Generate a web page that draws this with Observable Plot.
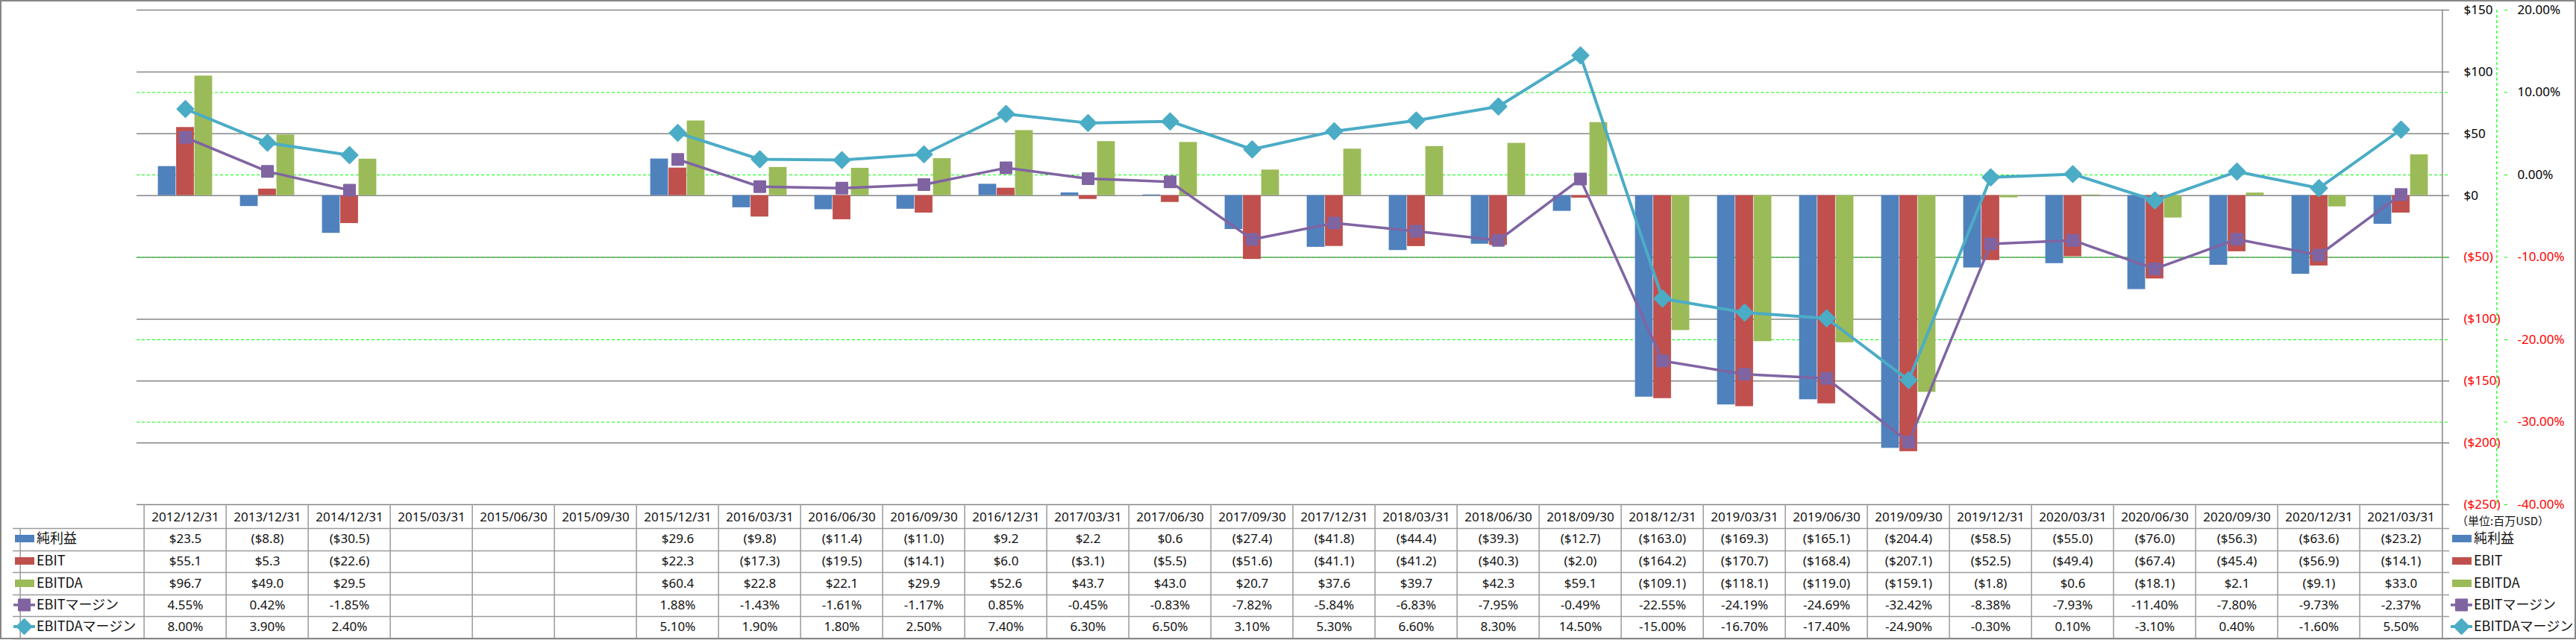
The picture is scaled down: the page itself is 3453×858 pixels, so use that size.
<!DOCTYPE html>
<html><head><meta charset="utf-8">
<script src="https://cdn.jsdelivr.net/npm/d3@7"></script>
<script src="https://cdn.jsdelivr.net/npm/@observablehq/plot@0.6"></script>
<style>
html,body{margin:0;padding:0;background:#fff;}
#chart svg{display:block;}
</style></head><body><div id="chart"></div>
<script>
// ---- data ----
const dates = ["2012/12/31","2013/12/31","2014/12/31","2015/03/31","2015/06/30","2015/09/30","2015/12/31","2016/03/31","2016/06/30","2016/09/30","2016/12/31","2017/03/31","2017/06/30","2017/09/30","2017/12/31","2018/03/31","2018/06/30","2018/09/30","2018/12/31","2019/03/31","2019/06/30","2019/09/30","2019/12/31","2020/03/31","2020/06/30","2020/09/30","2020/12/31","2021/03/31"];
const netIncome = [23.5,-8.8,-30.5,null,null,null,29.6,-9.8,-11.4,-11.0,9.2,2.2,0.6,-27.4,-41.8,-44.4,-39.3,-12.7,-163.0,-169.3,-165.1,-204.4,-58.5,-55.0,-76.0,-56.3,-63.6,-23.2];
const ebit = [55.1,5.3,-22.6,null,null,null,22.3,-17.3,-19.5,-14.1,6.0,-3.1,-5.5,-51.6,-41.1,-41.2,-40.3,-2.0,-164.2,-170.7,-168.4,-207.1,-52.5,-49.4,-67.4,-45.4,-56.9,-14.1];
const ebitda = [96.7,49.0,29.5,null,null,null,60.4,22.8,22.1,29.9,52.6,43.7,43.0,20.7,37.6,39.7,42.3,59.1,-109.1,-118.1,-119.0,-159.1,-1.8,0.6,-18.1,2.1,-9.1,33.0];
const ebitMargin = [4.55,0.42,-1.85,null,null,null,1.88,-1.43,-1.61,-1.17,0.85,-0.45,-0.83,-7.82,-5.84,-6.83,-7.95,-0.49,-22.55,-24.19,-24.69,-32.42,-8.38,-7.93,-11.40,-7.80,-9.73,-2.37];
const ebitdaMargin = [8.00,3.90,2.40,null,null,null,5.10,1.90,1.80,2.50,7.40,6.30,6.50,3.10,5.30,6.60,8.30,14.50,-15.00,-16.70,-17.40,-24.90,-0.30,0.10,-3.10,0.40,-1.60,5.50];
const seriesNames = ["純利益","EBIT","EBITDA","EBITマージン","EBITDAマージン"];
const dollarTicks = [150,100,50,0,-50,-100,-150,-200,-250];
const pctTicks = [20,10,0,-10,-20,-30,-40];
const pctGridTicks = [10,0,-10,-20,-30];
const unitLabel = "（単位:百万USD）";

// ---- derived table ----
const keys = ["net","ebit","ebitda","ebitM","ebitdaM"];
const colors = ["#4F81BD","#C0504D","#9BBB59","#8064A2","#4BACC6"];
const rows = dates.map((date,i)=>({date, net:netIncome[i], ebit:ebit[i], ebitda:ebitda[i], ebitM:ebitMargin[i], ebitdaM:ebitdaMargin[i]}));

// ---- geometry ----
const W = 3453, H = 858, mL = 183, mR = 170, mT = 13, mB = 182;
const bw = (W - mL - mR) / dates.length;
const barW = 24.5;
const barStart = (bw - 3*barW) / 2;
// secondary (percent) axis mapped onto the dollar axis: 20% <-> $150, -40% <-> -$250
const toY = m => m == null ? NaN : (m - 20) * 400/60 + 150;
const fromY = v => (v - 150) * 60/400 + 20;

const money = v => v == null ? "" : (v < 0 ? "($" + Math.abs(v).toFixed(1) + ")" : "$" + v.toFixed(1));
const pct = v => v == null ? "" : v.toFixed(2) + "%";
const axisMoney = v => v < 0 ? "($" + Math.abs(v) + ")" : "$" + v;
const axisPct = v => { let p = Math.round(fromY(v)); if (p === 0) p = 0; return p.toFixed(2) + "%"; };

const diamond = {draw(ctx, size){ const r = Math.sqrt(size/Math.PI); ctx.moveTo(0,-r); ctx.lineTo(r,0); ctx.lineTo(0,r); ctx.lineTo(-r,0); ctx.closePath(); }};
const square = {draw(ctx, size){ const r = Math.sqrt(size/Math.PI); ctx.moveTo(-r,-r); ctx.lineTo(r,-r); ctx.lineTo(r,r); ctx.lineTo(-r,r); ctx.closePath(); }};

const gridGray = "#868686";
const tableGray = "#9a9a9a";
const rowCenters = [46, 76, 106, 135, 164];
const rowLines = [32, 62, 91, 121, 150, 180];
const fmts = [money, money, money, pct, pct];

const marks = [
  Plot.gridY(dollarTicks, {stroke: gridGray, strokeOpacity: 1, strokeWidth: 1.5}),
  Plot.gridY(pctGridTicks.map(toY), {stroke: "#00ff00", strokeOpacity: 1, strokeWidth: 1.2, strokeDasharray: "4,3"}),
  // bars
  ...[0,1,2].map(i => Plot.barY(rows, {x: "date", y: keys[i], fill: colors[i],
      insetLeft: barStart + i*barW, insetRight: bw - barStart - (i+1)*barW})),
  // lines + markers
  Plot.line(rows, {x: "date", y: d => toY(d.ebitM), stroke: colors[3], strokeWidth: 3.5, strokeLinejoin: "round"}),
  Plot.dot(rows, {x: "date", y: d => toY(d.ebitM), symbol: square, r: 7.5, fill: colors[3], stroke: colors[3], strokeWidth: 2, strokeLinejoin: "round"}),
  Plot.line(rows, {x: "date", y: d => toY(d.ebitdaM), stroke: colors[4], strokeWidth: 4, strokeLinejoin: "round"}),
  Plot.dot(rows, {x: "date", y: d => toY(d.ebitdaM), symbol: diamond, r: 11, fill: colors[4], stroke: colors[4], strokeWidth: 2, strokeLinejoin: "round"}),
  // primary axis line (right) continuing as table border
  Plot.ruleX([dates[dates.length-1]], {dx: bw/2, stroke: gridGray, strokeWidth: 1.5, insetBottom: -180}),
  // primary axis labels
  Plot.axisY(dollarTicks.filter(v => v >= 0), {anchor: "right", tickSize: 0, tickPadding: 19, tickFormat: axisMoney, fill: "#000", label: null, textAnchor: "start"}),
  Plot.axisY(dollarTicks.filter(v => v < 0), {anchor: "right", tickSize: 0, tickPadding: 19, tickFormat: axisMoney, fill: "#ff0000", label: null, textAnchor: "start"}),
  // secondary axis
  Plot.ruleX([dates[dates.length-1]], {dx: bw/2 + 73, stroke: "#00ff00", strokeWidth: 1.2, strokeDasharray: "4,3"}),
  Plot.axisY(pctTicks.filter(v => v >= 0).map(toY), {anchor: "right", dx: 73, tickSize: 4, stroke: "#00ff00", tickPadding: 14, tickFormat: axisPct, fill: "#000", label: null, textAnchor: "start"}),
  Plot.axisY(pctTicks.filter(v => v < 0).map(toY), {anchor: "right", dx: 73, tickSize: 4, stroke: "#00ff00", tickPadding: 14, tickFormat: axisPct, fill: "#ff0000", label: null, textAnchor: "start"}),
  // data table grid
  Plot.ruleX(dates, {dx: -bw/2, stroke: tableGray, strokeWidth: 1.5, insetTop: 663, insetBottom: -180}),
  Plot.ruleX([dates[0]], {dx: -bw/2 - 166, stroke: tableGray, strokeWidth: 1.5, insetTop: 695, insetBottom: -180}),
  ...rowLines.map(o => Plot.ruleY([-250], {dy: o, insetLeft: -166, stroke: tableGray, strokeWidth: 1.5})),
  // table text
  Plot.text(rows, {x: "date", text: "date", frameAnchor: "bottom", dy: 17, lineAnchor: "middle", fill: "#111", fontSize: 17}),
  ...keys.map((k, i) => Plot.text(rows, {x: "date", text: d => fmts[i](d[k]), frameAnchor: "bottom", dy: rowCenters[i], lineAnchor: "middle", fill: "#111", fontSize: 17}))
];

const plot = Plot.plot({
  width: W, height: H,
  marginLeft: mL, marginRight: mR, marginTop: mT, marginBottom: mB,
  style: {fontFamily: "'Noto Sans', sans-serif", fontSize: "17px", background: "#fff", color: "#111"},
  x: {type: "band", domain: dates, padding: 0, axis: null},
  y: {domain: [-250, 150]},
  marks
});
document.getElementById("chart").appendChild(plot);

// ---- legends & outer border ----
const svg = d3.select(plot);
svg.append("rect").attr("x", 1).attr("y", 1).attr("width", W - 2).attr("height", H - 3)
  .attr("fill", "none").attr("stroke", gridGray).attr("stroke-width", 2);

const base = H - mB;
function legend(x0, textX, lineKeyX0) {
  const g = svg.append("g").attr("text-anchor", "start")
    .style("font-family", "'Noto Sans CJK JP', 'Noto Sans', sans-serif").style("font-size", "18px");
  seriesNames.forEach((name, i) => {
    const cy = base + rowCenters[i];
    if (i < 3) {
      g.append("rect").attr("x", x0).attr("y", cy - 5).attr("width", 26).attr("height", 10).attr("fill", colors[i]);
    } else {
      g.append("line").attr("x1", lineKeyX0).attr("x2", lineKeyX0 + 29).attr("y1", cy).attr("y2", cy)
        .attr("stroke", colors[i]).attr("stroke-width", i === 3 ? 3.5 : 4);
      const cx = lineKeyX0 + 14.5;
      if (i === 3) {
        g.append("rect").attr("x", cx - 7.5).attr("y", cy - 7.5).attr("width", 15).attr("height", 15)
          .attr("fill", colors[i]).attr("stroke", colors[i]).attr("stroke-width", 2).attr("stroke-linejoin", "round");
      } else {
        g.append("path").attr("d", `M${cx},${cy-10}L${cx+10},${cy}L${cx},${cy+10}L${cx-10},${cy}Z`)
          .attr("fill", colors[i]).attr("stroke", colors[i]).attr("stroke-width", 2).attr("stroke-linejoin", "round");
      }
    }
    g.append("text").attr("x", textX).attr("y", cy).attr("dy", "0.35em").attr("text-anchor", "start").attr("fill", "#111").text(name);
  });
}
legend(20, 49, 18);
legend(3287, 3316, 3285);
svg.append("text").attr("x", 3293).attr("y", base + 23).attr("dy", "0.35em").attr("text-anchor", "start")
  .style("font-family", "'Noto Sans CJK JP', sans-serif").style("font-size", "15px").attr("fill", "#111").text(unitLabel);
</script>
</body></html>
